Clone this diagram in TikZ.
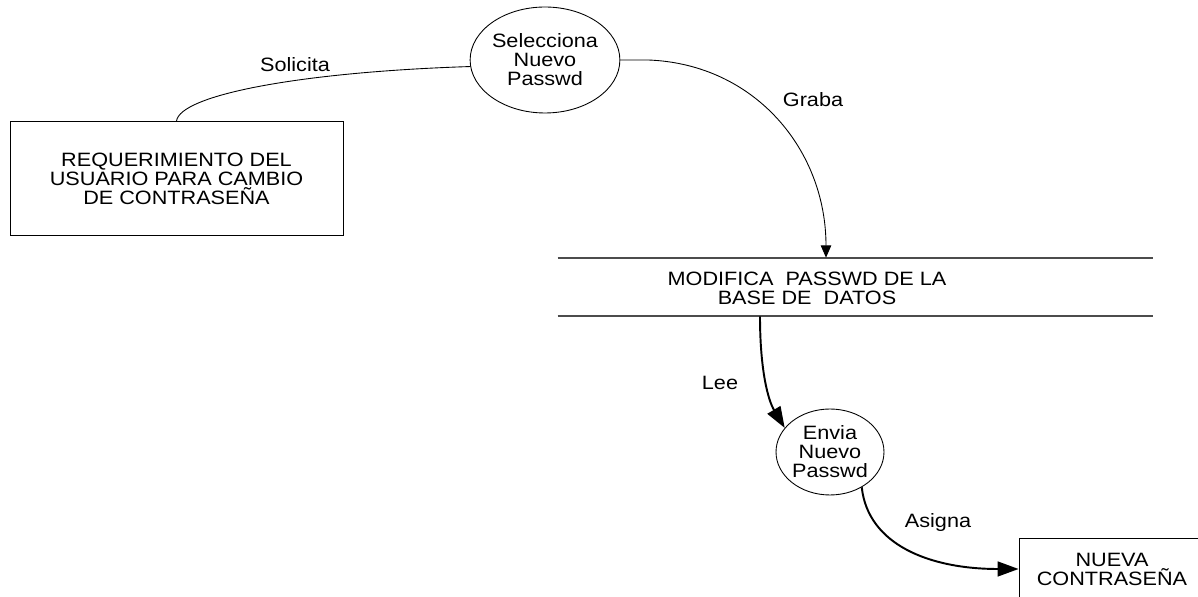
\documentclass[tikz,border=0pt]{standalone}
\usepackage{fontspec}
\setmainfont{Liberation Sans}[FakeStretch=1.12]
\usetikzlibrary{shapes.geometric,arrows.meta}

\begin{document}
\begin{tikzpicture}[x=0.02cm,y=-0.02cm,
        every node/.style={font=\fontsize{11}{10.8}\selectfont,align=center},
        proceso/.style={draw,ellipse,inner sep=0pt,line width=0.5pt},
        entidad/.style={draw,rectangle,inner sep=0pt,line width=0.5pt},
        flujo/.style={line width=0.5pt,-{Triangle[length=7pt,width=6pt]}},
        flujogrueso/.style={line width=1.1pt,-{Triangle[length=12pt,width=8.5pt]}},
        almacen/.style={line width=1pt,black!70}]
    \useasboundingbox (0,0) rectangle (1198,597);

    % entidades y procesos
    \node[entidad,minimum width=6.66cm,minimum height=2.28cm] (req) at (176.5,178.5)
        {REQUERIMIENTO DEL\\USUARIO PARA CAMBIO\\DE CONTRASEÑA};
    \node[proceso,minimum width=2.76cm,minimum height=2.12cm] (sel) at (545,60)
        {Selecciona\\Nuevo\\Passwd};
    \node[proceso,minimum width=2.16cm,minimum height=1.72cm] (env) at (830,452)
        {Envia\\Nuevo\\Passwd};
    \node[entidad,minimum width=3.72cm,minimum height=1.24cm] (nueva) at (1112,569)
        {NUEVA\\CONTRASEÑA};

    % almacen de datos
    \node[minimum width=11.9cm,minimum height=1.16cm] (bd) at (855.5,287) {};
    \draw[almacen] (bd.north west) -- (bd.north east);
    \draw[almacen] (bd.south west) -- (bd.south east);
    \node (bdtxt) at (807,288) {MODIFICA\ \ PASSWD DE LA\\BASE DE\ \ DATOS};

    % flujos
    \draw[line width=0.5pt] (req.north) .. controls (180,95) and (300,72) .. (sel.185);
    \draw[flujo] (sel.east) -- ++(28,0) .. controls (755,64) and (826,150) .. (826,0 |- bd.north);
    \draw[flujogrueso] (760,0 |- bd.south) .. controls (760,370) and (768,400) .. (env.152);
    \draw[flujogrueso] (env.-48) .. controls (868,545) and (930,569) .. (nueva.west);

    % etiquetas
    \node (solicita) at (295,65) {Solicita};
    \node (graba) at (813,100) {Graba};
    \node (lee) at (720,383) {Lee};
    \node (asigna) at (938,523) {Asigna};
\end{tikzpicture}
\end{document}
